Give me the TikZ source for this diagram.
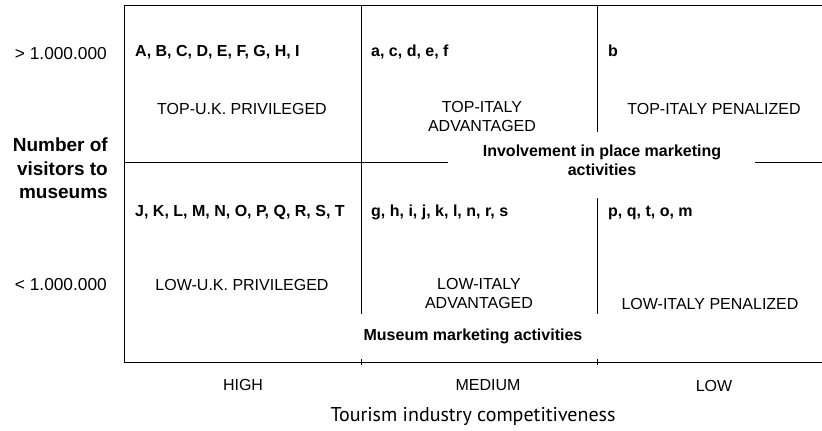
\documentclass[tikz,border=0pt]{standalone}
\usepackage{fontspec}
\setmainfont{Liberation Sans}
\newfontfamily\axisfont{PT Sans}
\begin{document}
\begin{tikzpicture}[x=1pt,y=1pt,
  grid/.style={line width=0.9pt,black},
  lbl/.style={inner sep=0pt,font=\fontsize{16}{19}\selectfont,align=center},
  numlbl/.style={inner sep=0pt,font=\fontsize{17.3}{19}\selectfont},
  blbl/.style={inner sep=0pt,font=\fontsize{16}{19}\selectfont\bfseries,align=center},
  ylbl/.style={inner sep=0pt,font=\fontsize{19}{23.5}\selectfont\bfseries,align=right},
  xtitle/.style={inner sep=0pt,font=\axisfont\fontsize{20}{24}\selectfont}]
\useasboundingbox (0,0) rectangle (822,-431);
% frame coordinates
\coordinate (tl) at (124,-5);
\coordinate (tr) at (822,-5);
\coordinate (bl) at (124,-362);
\coordinate (br) at (822,-362);
\coordinate (v1t) at (361,-5);
\coordinate (v1b) at (361,-314);
\coordinate (v2t) at (597,-5);
\coordinate (v2m) at (597,-132);
\coordinate (v2n) at (597,-198);
\coordinate (v2b) at (597,-314);
\coordinate (hl) at (124,-162);
\coordinate (hm) at (448,-162);
\coordinate (hn) at (755,-162);
\coordinate (hr) at (822,-162);
\coordinate (t1a) at (361,-359);
\coordinate (t1b) at (361,-365);
\coordinate (t2a) at (597,-359);
\coordinate (t2b) at (597,-365);
\draw[grid] (tr) -- (tl) -- (bl) -- (br);
\draw[grid] (v1t) -- (v1b);
\draw[grid] (v2t) -- (v2m);
\draw[grid] (v2n) -- (v2b);
\draw[grid] (hl) -- (hm);
\draw[grid] (hn) -- (hr);
\draw[line width=0.6pt] (t1a) -- (t1b);
\draw[line width=0.6pt] (t2a) -- (t2b);
% left labels
\node[numlbl,anchor=base east] (gt) at (107,-59) {> 1.000.000};
\node[numlbl,anchor=base east] (lt) at (107,-290) {< 1.000.000};
\node[ylbl,anchor=north east] (ylab) at (108,-138) {Number of\\visitors to\\museums};
% top row
\node[blbl,anchor=base west] (l1) at (135,-56) {A, B, C, D, E, F, G, H, I};
\node[blbl,anchor=base west] (l2) at (371,-56) {a, c, d, e, f};
\node[blbl,anchor=base west] (l3) at (608,-56) {b};
\node[lbl,anchor=base] (q1) at (242,-114) {TOP-U.K. PRIVILEGED};
\node[lbl,anchor=north] (q2) at (482,-101) {TOP-ITALY\\ADVANTAGED};
\node[lbl,anchor=base] (q3) at (714,-114) {TOP-ITALY PENALIZED};
\node[blbl,anchor=north] (inv) at (602,-145) {Involvement in place marketing\\activities};
% bottom row
\node[blbl,anchor=base west] (l4) at (135,-216) {J, K, L, M, N, O, P, Q, R, S, T};
\node[blbl,anchor=base west] (l5) at (371,-216) {g, h, i, j, k, l, n, r, s};
\node[blbl,anchor=base west] (l6) at (608,-216) {p, q, t, o, m};
\node[lbl,anchor=base] (q4) at (242,-290) {LOW-U.K. PRIVILEGED};
\node[lbl,anchor=north] (q5) at (479,-278) {LOW-ITALY\\ADVANTAGED};
\node[lbl,anchor=base] (q6) at (710,-309) {LOW-ITALY PENALIZED};
\node[blbl,anchor=base] (mus) at (473,-340) {Museum marketing activities};
% x axis
\node[lbl,anchor=base] (hi) at (243,-390) {HIGH};
\node[lbl,anchor=base] (me) at (488,-390) {MEDIUM};
\node[lbl,anchor=base] (lo) at (714,-391) {LOW};
\node[xtitle,anchor=base] (xt) at (473,-421) {Tourism industry competitiveness};
\end{tikzpicture}
\end{document}
